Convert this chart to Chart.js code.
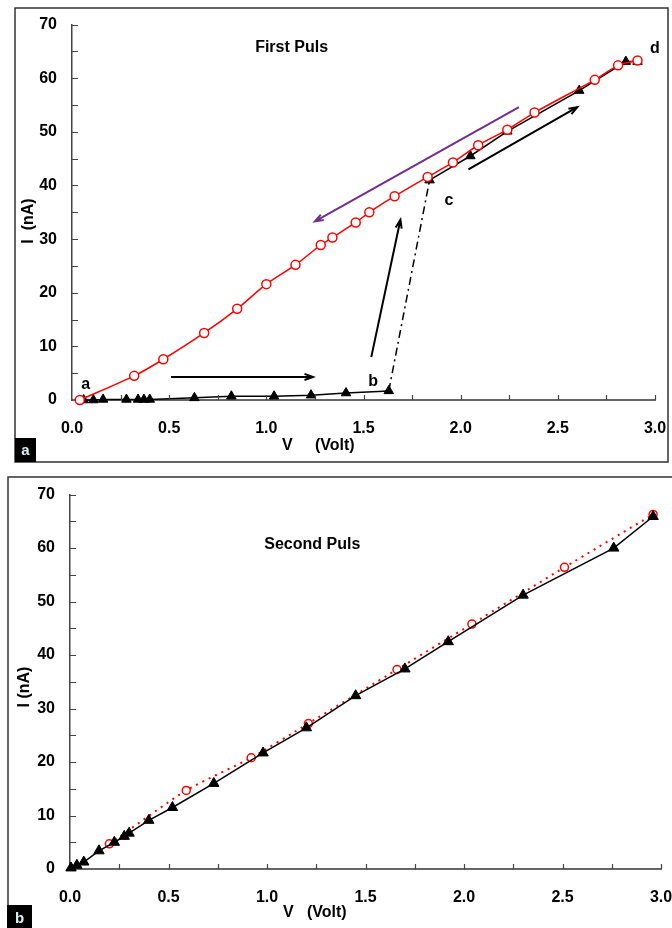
<!DOCTYPE html>
<html>
<head>
    <title>I-V curves, first and second pulse</title>
    <script src="https://cdn.jsdelivr.net/npm/chart.js"></script>
    <style>
        body {
            margin: 0;
            width: 672px;
            height: 928px;
            overflow: hidden;
            background: #fff;
            position: relative;
        }
        canvas {
            position: absolute;
            left: 0;
        }
        #firstChart { top: 0; }
        #secondChart { top: 470px; }
    </style>
</head>
<body>
    <canvas id="firstChart" width="720" height="470"></canvas>
    <canvas id="secondChart" width="720" height="458"></canvas>
    <script>
        // panel a - first pulse (black = forward sweep, red = return sweep)
        const firstUpV = [0.06, 0.11, 0.16, 0.28, 0.34, 0.37, 0.40, 0.63, 0.82, 1.04, 1.23, 1.41, 1.63, 1.84, 2.05, 2.24, 2.61, 2.85, 2.91];
        const firstUpI = [0.0, 0.0, 0.1, 0.1, 0.1, 0.1, 0.1, 0.4, 0.7, 0.7, 0.9, 1.3, 1.7, 41.0, 45.5, 50.1, 57.7, 63.1, 63.1];
        const firstDownV = [0.04, 0.32, 0.47, 0.68, 0.85, 1.00, 1.15, 1.28, 1.34, 1.46, 1.53, 1.66, 1.83, 1.96, 2.09, 2.24, 2.38, 2.69, 2.81, 2.91];
        const firstDownI = [0.0, 4.5, 7.6, 12.5, 17.0, 21.6, 25.2, 28.9, 30.3, 33.1, 35.0, 38.0, 41.6, 44.3, 47.5, 50.4, 53.6, 59.7, 62.4, 63.3];
        const jumpIndex = 12; // b -> c step is drawn dash-dot

        // panel b - second pulse
        const secondUpV = [0.005, 0.035, 0.07, 0.147, 0.225, 0.275, 0.30, 0.40, 0.52, 0.73, 0.98, 1.20, 1.45, 1.70, 1.92, 2.30, 2.76, 2.96];
        const secondUpI = [0.2, 0.7, 1.3, 3.4, 5.0, 6.1, 6.7, 9.1, 11.5, 16.0, 21.7, 26.4, 32.4, 37.4, 42.5, 51.2, 60.0, 65.9];
        const secondDownV = [0.20, 0.59, 0.92, 1.21, 1.66, 2.04, 2.51, 2.96];
        const secondDownI = [4.7, 14.7, 20.8, 27.2, 37.3, 45.8, 56.4, 66.3];

        const vTickValues = [0, 0.5, 1.0, 1.5, 2.0, 2.5, 3.0];
        const iTickValues = [0, 10, 20, 30, 40, 50, 60, 70];

        // annotations of panel a, in data units (V, nA)
        const firstArrows = [
            { from: [0.51, 4.3], to: [1.24, 4.3], color: '#000' },
            { from: [1.54, 8.0], to: [1.69, 33.6], color: '#000' },
            { from: [2.30, 54.6], to: [1.25, 33.3], color: '#702f8f' },
            { from: [2.04, 43.0], to: [2.60, 54.6], color: '#000' }
        ];
        const firstNotes = [
            { text: 'a', at: [0.07, 2.8] },
            { text: 'b', at: [1.55, 3.4] },
            { text: 'c', at: [1.94, 37.1] },
            { text: 'd', at: [3.00, 65.5] },
            { text: 'First Puls', at: [1.13, 65.7] }
        ];
        const secondNotes = [
            { text: 'Second Puls', at: [1.23, 60.7] }
        ];

        const FONT = '"Liberation Sans", Arial, sans-serif';

        function points(xs, ys) {
            return xs.map((v, i) => ({ x: v, y: ys[i] }));
        }

        function axes(yWidth, xHeight) {
            const tickFont = { family: FONT, size: 16, weight: 'bold' };
            return {
                x: {
                    type: 'linear', min: 0, max: 3,
                    afterBuildTicks: s => { s.ticks = vTickValues.map(v => ({ value: v })); },
                    afterFit: s => { s.height = xHeight; },
                    grid: { display: false, drawTicks: false },
                    border: { display: true, color: '#666', width: 2 },
                    ticks: { color: '#000', font: tickFont, padding: 19, maxRotation: 0, autoSkip: false,
                             callback: v => Number(v).toFixed(1) }
                },
                y: {
                    type: 'linear', min: 0, max: 70,
                    afterBuildTicks: s => { s.ticks = iTickValues.map(v => ({ value: v })); },
                    afterFit: s => { s.width = yWidth; },
                    grid: { display: false, drawTicks: false },
                    border: { display: true, color: '#444', width: 1.5 },
                    ticks: { color: '#000', font: tickFont, padding: 15 }
                }
            };
        }

        function drawArrow(ctx, x1, y1, x2, y2, color) {
            const ang = Math.atan2(y2 - y1, x2 - x1);
            ctx.strokeStyle = color;
            ctx.lineWidth = 2;
            ctx.beginPath();
            ctx.moveTo(x1, y1);
            ctx.lineTo(x2, y2);
            ctx.moveTo(x2 - 9 * Math.cos(ang - 0.35), y2 - 9 * Math.sin(ang - 0.35));
            ctx.lineTo(x2, y2);
            ctx.lineTo(x2 - 9 * Math.cos(ang + 0.35), y2 - 9 * Math.sin(ang + 0.35));
            ctx.stroke();
        }

        // frame, inner ticks, titles, notes and arrows
        function panelPlugin(p) {
            return {
                id: 'panel',
                afterDraw(chart) {
                    const { ctx, chartArea: area, scales: { x, y } } = chart;
                    ctx.save();

                    ctx.strokeStyle = '#333';
                    ctx.lineWidth = 1.5;
                    ctx.strokeRect(p.frame[0], p.frame[1], p.frame[2], p.frame[3]);

                    // minor/major tick marks pointing into the plot
                    ctx.strokeStyle = '#444';
                    ctx.lineWidth = 1.2;
                    ctx.beginPath();
                    for (let v = 0.25; v <= 3.001; v += 0.25) {
                        const px = Math.round(x.getPixelForValue(v)) + 0.5;
                        ctx.moveTo(px, area.bottom);
                        ctx.lineTo(px, area.bottom - 5);
                    }
                    for (let v = 5; v <= 70; v += 5) {
                        const py = Math.round(y.getPixelForValue(v)) + 0.5;
                        ctx.moveTo(area.left, py);
                        ctx.lineTo(area.left + 6, py);
                    }
                    ctx.stroke();

                    (p.arrows || []).forEach(a => {
                        drawArrow(ctx, x.getPixelForValue(a.from[0]), y.getPixelForValue(a.from[1]),
                                  x.getPixelForValue(a.to[0]), y.getPixelForValue(a.to[1]), a.color);
                    });

                    ctx.fillStyle = '#000';
                    ctx.font = 'bold 16px ' + FONT;
                    ctx.textAlign = 'center';
                    ctx.textBaseline = 'middle';
                    p.notes.forEach(n => {
                        ctx.fillText(n.text, x.getPixelForValue(n.at[0]), y.getPixelForValue(n.at[1]));
                    });

                    // axis titles
                    ctx.textAlign = 'left';
                    ctx.fillText('V', p.vTitle[0], p.vTitle[2]);
                    ctx.fillText('(Volt)', p.vTitle[1], p.vTitle[2]);
                    ctx.save();
                    ctx.translate(p.iTitle[0], p.iTitle[1]);
                    ctx.rotate(-Math.PI / 2);
                    ctx.textAlign = 'center';
                    ctx.fillText(p.iTitleText, 0, 0);
                    ctx.restore();

                    // panel letter
                    const b = p.letterBox;
                    ctx.fillStyle = '#000';
                    ctx.fillRect(b[0], b[1], b[2], b[3]);
                    ctx.fillStyle = '#d4f4f4';
                    ctx.font = 'bold 15px ' + FONT;
                    ctx.textAlign = 'center';
                    ctx.fillText(p.letter, b[0] + b[2] / 2, b[1] + b[3] / 2 + 1);

                    ctx.restore();
                }
            };
        }

        const baseOptions = {
            responsive: false,
            animation: false,
            devicePixelRatio: 1,
            plugins: { legend: { display: false }, tooltip: { enabled: false } }
        };

        new Chart(document.getElementById('firstChart').getContext('2d'), {
            type: 'line',
            data: {
                datasets: [
                    {
                        label: 'return', data: points(firstDownV, firstDownI),
                        borderColor: '#ff0000', borderWidth: 1.5, tension: 0.3,
                        pointStyle: 'circle', pointRadius: 4.5, pointBorderWidth: 1.5,
                        pointBorderColor: '#ff0000', pointBackgroundColor: '#fff', clip: false
                    },
                    {
                        label: 'forward', data: points(firstUpV, firstUpI),
                        borderColor: '#000', borderWidth: 1.5, tension: 0,
                        segment: { borderDash: ctx => ctx.p0DataIndex === jumpIndex ? [8, 4, 2, 4] : undefined },
                        pointStyle: 'triangle', pointRadius: 5.5, pointBorderWidth: 1,
                        pointBorderColor: '#000', pointBackgroundColor: '#000', clip: false
                    }
                ]
            },
            options: {
                ...baseOptions,
                layout: { padding: { top: 24, right: 65, left: 0, bottom: 0 } },
                scales: axes(72, 70)
            },
            plugins: [panelPlugin({
                frame: [15, 8, 653, 454],
                arrows: firstArrows,
                notes: firstNotes,
                vTitle: [282, 315, 446],
                iTitle: [29, 221],
                iTitleText: 'I  (nA)',
                letterBox: [15, 438, 21, 24],
                letter: 'a'
            })]
        });

        new Chart(document.getElementById('secondChart').getContext('2d'), {
            type: 'line',
            data: {
                datasets: [
                    {
                        label: 'forward', data: points(secondUpV, secondUpI),
                        borderColor: '#000', borderWidth: 1.5, tension: 0,
                        pointStyle: 'triangle', pointRadius: 6, pointBorderWidth: 1,
                        pointBorderColor: '#000', pointBackgroundColor: '#000', clip: false
                    },
                    {
                        label: 'return', data: points(secondDownV, secondDownI),
                        borderColor: '#ff0000', borderWidth: 2, borderDash: [2, 5], tension: 0.2,
                        pointStyle: 'circle', pointRadius: 4, pointBorderWidth: 1.5,
                        pointBorderColor: '#ff0000', pointBackgroundColor: '#fff', clip: false
                    }
                ]
            },
            options: {
                ...baseOptions,
                layout: { padding: { top: 23, right: 59, left: 0, bottom: 0 } },
                scales: axes(70, 59)
            },
            plugins: [panelPlugin({
                frame: [8, 7, 900, 900],
                notes: secondNotes,
                vTitle: [283, 307, 443],
                iTitle: [25, 217],
                iTitleText: 'I (nA)',
                letterBox: [7, 435, 25, 25],
                letter: 'b'
            })]
        });
    </script>
</body>
</html>
